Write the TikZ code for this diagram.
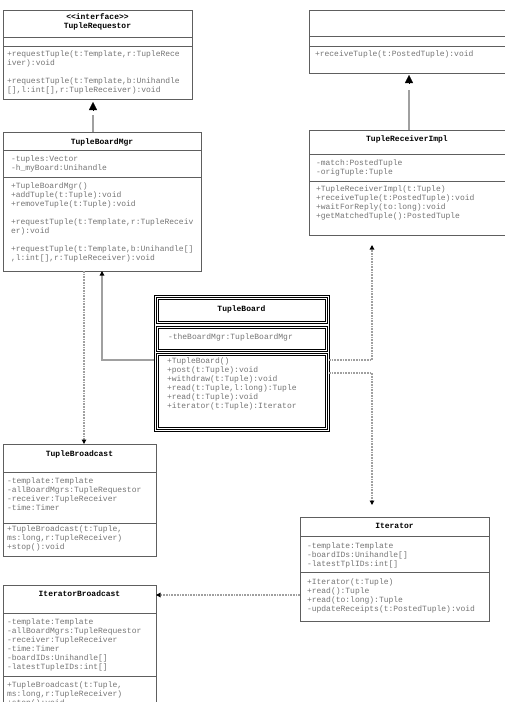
\documentclass[tikz,border=0pt]{standalone}
\usepackage{fontspec}
\newfontfamily\umlfont{Liberation Mono}
\usetikzlibrary{arrows.meta}
\definecolor{boxline}{HTML}{5E5E5E}
\definecolor{membertext}{HTML}{747474}
\definecolor{linkgray}{HTML}{A0A0A0}
\newlength\cpad \setlength\cpad{4pt}
\newlength\ctop \setlength\ctop{5pt}
% compartment text, left aligned / centred class name
\newcommand\cpart[3]{\parbox[t][#2][t]{#1}{\vspace*{\ctop}\raggedright\leftskip=\cpad\strut #3}}
\newcommand\cname[3]{\parbox[t][#2][t]{#1}{\vspace*{\ctop}\centering\bfseries\color{black}\strut #3}}

\begin{document}
\begin{tikzpicture}[x=1pt,y=-1pt,
  part/.style={draw=boxline,line width=.8pt,anchor=north west,inner sep=0pt,outer sep=0pt,font=\umlfont\fontsize{8}{9}\selectfont,text=membertext},
  boardpart/.style={part,draw=black,line width=.6pt},
  boardframe/.style={draw=black,line width=.6pt,anchor=north west,inner sep=0pt,outer sep=0pt},
  leftpad/.code={\setlength\cpad{#1}},
  toppad/.code={\setlength\ctop{#1}},
  gen/.style={draw=linkgray,line width=1.3pt},
  genhead/.style={draw=black,line width=.1pt,-{Triangle[length=8pt,width=8pt,color=black]}},
  assoc/.style={draw=linkgray,line width=1.3pt,-{Triangle[length=4.5pt,width=4.5pt,color=black]}},
  dep/.style={draw=linkgray,line width=1.2pt,dash pattern=on 1.7pt off 1pt,-{Triangle[length=4.5pt,width=4.5pt,color=black]}}]
\useasboundingbox (0,0) rectangle (504,702);
% TupleRequestor
\node[part,toppad=3.5pt] (reqName) at (3,10) {\cname{189pt}{27pt}{<\kern0pt<interface>\kern0pt>\\TupleRequestor}};
\node[part,minimum width=189pt,minimum height=9pt] (reqAttr) at (3,37) {};
\node[part,toppad=4.5pt] (reqOps) at (3,46) {\cpart{189pt}{53pt}{+requestTuple(t:Template,r:TupleRece\\iver):void\\[9pt]+requestTuple(t:Template,b:Unihandle\\{}[],l:int[],r:TupleReceiver):void}};
% TupleReceiver
\node[part,minimum width=196pt,minimum height=26pt] (rcvName) at (309,10) {};
\node[part,minimum width=196pt,minimum height=10pt] (rcvAttr) at (309,36) {};
\node[part,toppad=4.5pt,leftpad=6pt] (rcvOps) at (309,46) {\cpart{196pt}{27pt}{+receiveTuple(t:PostedTuple):void}};
% TupleBoardMgr
\node[part,toppad=6.5pt] (mgrName) at (3,132) {\cname{198pt}{18pt}{TupleBoardMgr}};
\node[part,toppad=5.5pt,leftpad=8pt] (mgrAttr) at (3,150) {\cpart{198pt}{27pt}{-tuples:Vector\\-h\_myBoard:Unihandle}};
\node[part,toppad=5.5pt,leftpad=8pt] (mgrOps) at (3,177) {\cpart{198pt}{94pt}{+TupleBoardMgr()\\+addTuple(t:Tuple):void\\+removeTuple(t:Tuple):void\\[9pt]+requestTuple(t:Template,r:TupleReceiv\\er):void\\[9pt]+requestTuple(t:Template,b:Unihandle[]\\,l:int[],r:TupleReceiver):void}};
% TupleReceiverImpl
\node[part,toppad=5.5pt] (implName) at (309,130) {\cname{196pt}{24pt}{TupleReceiverImpl}};
\node[part,toppad=5.5pt,leftpad=7pt] (implAttr) at (309,154) {\cpart{196pt}{27pt}{-match:PostedTuple\\-origTuple:Tuple}};
\node[part,toppad=4.5pt,leftpad=7pt] (implOps) at (309,181) {\cpart{196pt}{54pt}{+TupleReceiverImpl(t:Tuple)\\+receiveTuple(t:PostedTuple):void\\+waitForReply(to:long):void\\+getMatchedTuple():PostedTuple}};
% TupleBoard
\node[boardframe,minimum width=175pt,minimum height=136pt] (board) at (154,295) {};
\node[boardpart,toppad=8.5pt] (boardName) at (156,297) {\cname{171pt}{26pt}{TupleBoard}};
\node[boardpart,toppad=7.5pt,leftpad=12pt] (boardAttr) at (156,326) {\cpart{171pt}{25pt}{-theBoardMgr:TupleBoardMgr}};
\node[boardpart,toppad=4.5pt,leftpad=11pt] (boardOps) at (156,353) {\cpart{171pt}{76pt}{+TupleBoard()\\+post(t:Tuple):void\\+withdraw(t:Tuple):void\\+read(t:Tuple,l:long):Tuple\\+read(t:Tuple):void\\+iterator(t:Tuple):Iterator}};
\foreach \n in {boardName,boardAttr,boardOps}
  \draw[line width=.6pt] ([xshift=2pt,yshift=-2pt]\n.north west) rectangle ([xshift=-2pt,yshift=2pt]\n.south east);
% TupleBroadcast
\node[part,toppad=6.5pt] (bcastName) at (3,444) {\cname{153pt}{28pt}{TupleBroadcast}};
\node[part,toppad=5.5pt] (bcastAttr) at (3,472) {\cpart{153pt}{51pt}{-template:Template\\-allBoardMgrs:TupleRequestor\\-receiver:TupleReceiver\\-time:Timer}};
\node[part,toppad=2.5pt] (bcastOps) at (3,523) {\cpart{153pt}{33pt}{+TupleBroadcast(t:Tuple,\\ms:long,r:TupleReceiver)\\+stop():void}};
% Iterator
\node[part,toppad=5.5pt] (iterName) at (300,517) {\cname{189pt}{19pt}{Iterator}};
\node[part,toppad=6.5pt,leftpad=7pt] (iterAttr) at (300,536) {\cpart{189pt}{36pt}{-template:Template\\-boardIDs:Unihandle[]\\-latestTplIDs:int[]}};
\node[part,toppad=6.5pt,leftpad=7pt] (iterOps) at (300,572) {\cpart{189pt}{49pt}{+Iterator(t:Tuple)\\+read():Tuple\\+read(to:long):Tuple\\-updateReceipts(t:PostedTuple):void}};
% IteratorBroadcast
\node[part,toppad=5.5pt] (ibcastName) at (3,585) {\cname{153pt}{28pt}{IteratorBroadcast}};
\node[part,toppad=5.5pt] (ibcastAttr) at (3,613) {\cpart{153pt}{63pt}{-template:Template\\-allBoardMgrs:TupleRequestor\\-receiver:TupleReceiver\\-time:Timer\\-boardIDs:Unihandle[]\\-latestTupleIDs:int[]}};
\node[part,toppad=5.5pt] (ibcastOps) at (3,676) {\cpart{153pt}{40pt}{+TupleBroadcast(t:Tuple,\\ms:long,r:TupleReceiver)\\+stop():void}};
% connectors
\coordinate (jx) at (372,0);
\draw[gen,shorten >=16pt] ([xshift=-9pt]mgrName.north) -- ([xshift=-4.5pt]reqOps.south);
\draw[genhead] ([xshift=-4.5pt,yshift=-11pt]reqOps.south) -- ([xshift=-4.5pt,yshift=-3pt]reqOps.south);
\draw[gen,shorten >=17pt] ([xshift=2pt]implName.north) -- ([xshift=2pt]rcvOps.south);
\draw[genhead] ([xshift=2pt,yshift=-10pt]rcvOps.south) -- ([xshift=2pt,yshift=-2pt]rcvOps.south);
\draw[assoc] ([yshift=3pt]board.west) -| (mgrOps.south);
\draw[dep] ([xshift=-18pt]mgrOps.south) -- ([xshift=-18pt]mgrOps.south |- bcastName.north);
\draw[dep,shorten >=10pt] ([yshift=3pt]board.east) -| (jx |- implOps.south);
\draw[dep,shorten >=12pt] ([yshift=-10pt]board.east) -| (jx |- iterName.north);
\draw[dep] ([yshift=1.5pt]iterOps.west) -- ([yshift=1.5pt]iterOps.west -| ibcastName.east);
\end{tikzpicture}
\end{document}
